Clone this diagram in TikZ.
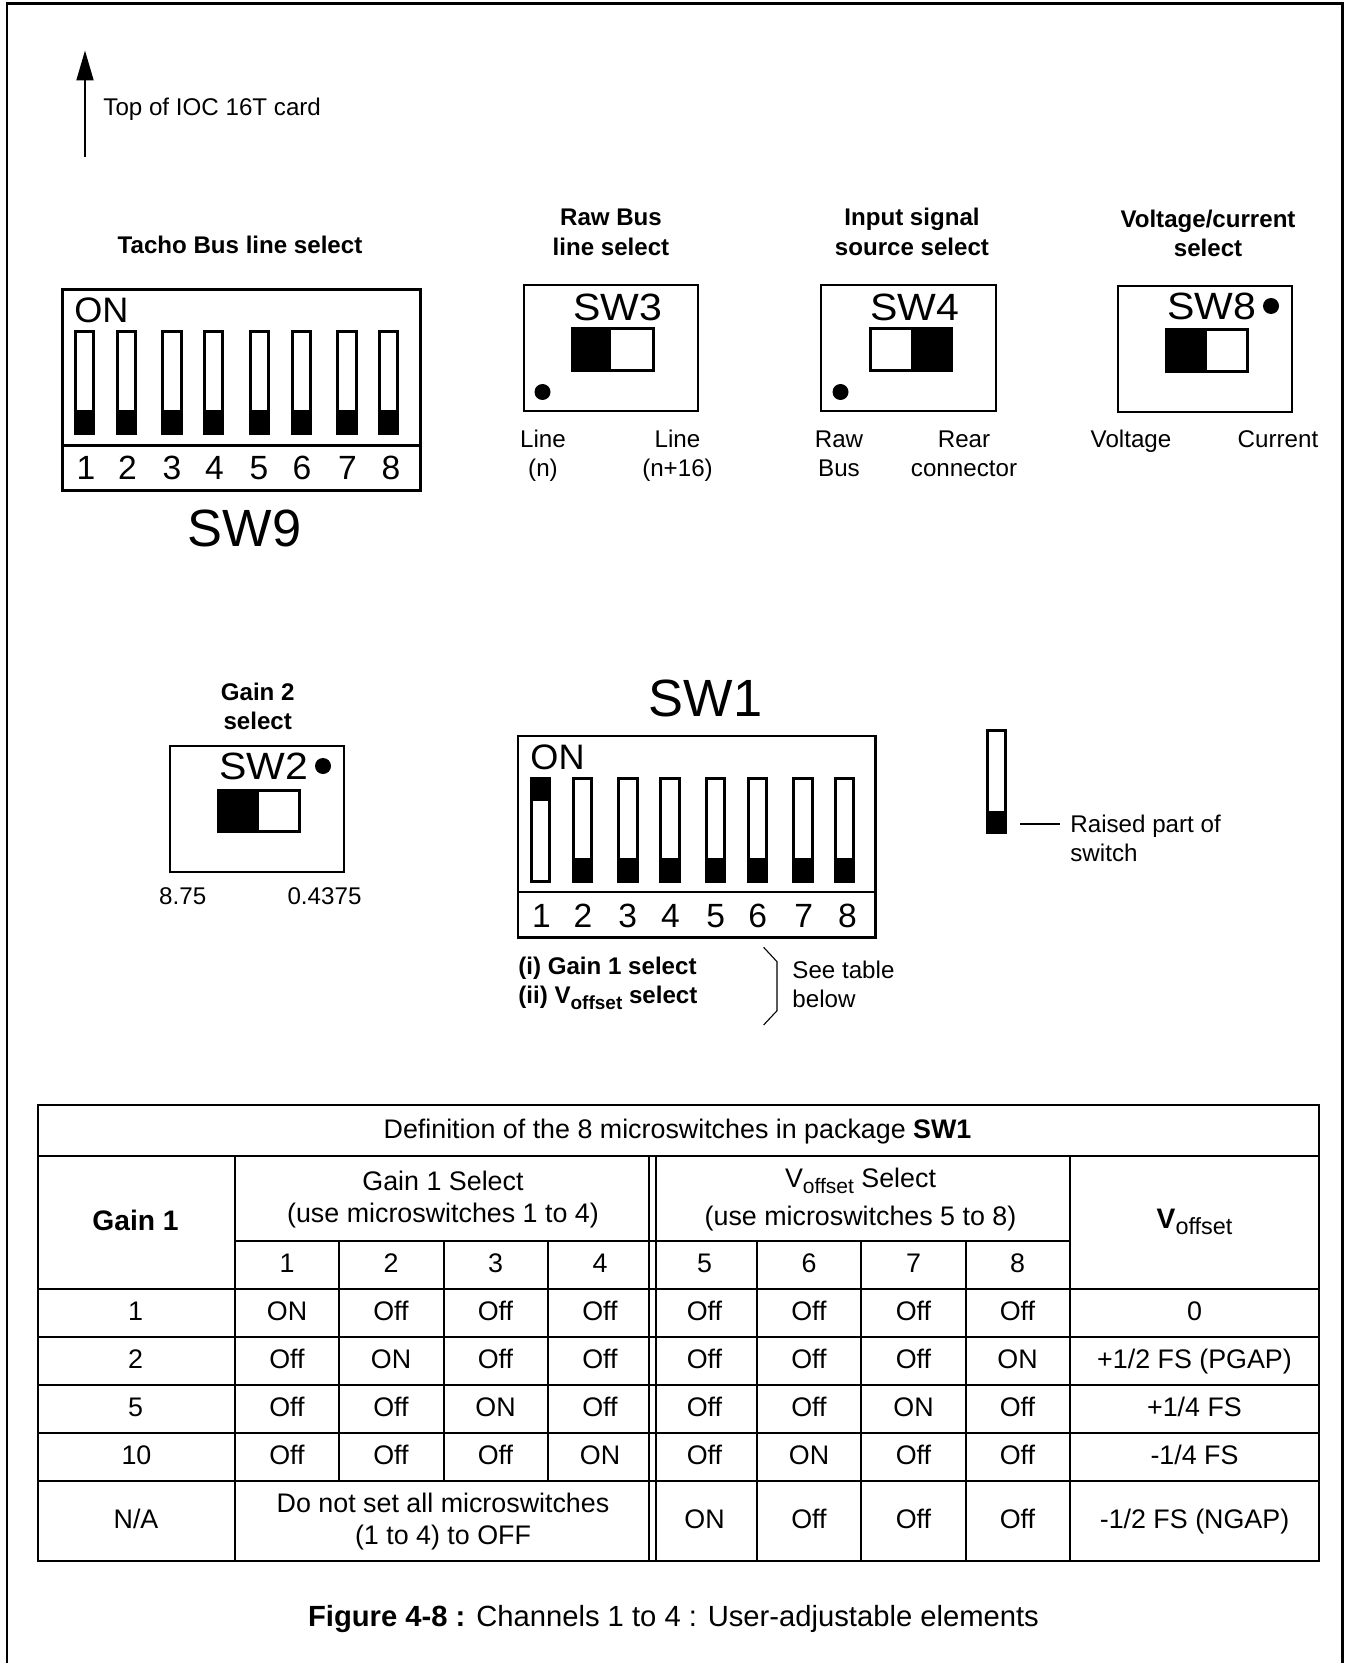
\documentclass[tikz,border=0pt]{standalone}
\usepackage{fontspec}
\usepackage{graphicx}
\setmainfont{Liberation Sans}
\usetikzlibrary{arrows.meta}
\newcommand{\fsz}[1]{\fontsize{#1}{#1}\selectfont}
\newcommand{\subtxt}[2]{\raisebox{-3pt}{\fsz{#1}#2}}
\tikzset{
  tbase/.style={inner sep=0pt,text depth=0pt},
  lab/.style={tbase,font=\fsz{12.08},text height=8.6pt},
  labb/.style={tbase,font=\fsz{12.05}\bfseries,text height=8.6pt},
  cell/.style={tbase,font=\fsz{13.42},text height=9.5pt},
  cellb/.style={tbase,font=\fsz{14.1}\bfseries,text height=10pt},
  swname/.style={tbase,font=\fsz{19},text height=13.6pt},
  swbig/.style={tbase,font=\fsz{26.2},text height=18.3pt},
  digit/.style={tbase,font=\fsz{16.8},text height=11.8pt},
  onlab/.style={tbase,font=\fsz{17.7},text height=12.2pt,anchor=west},
  frame/.style={line width=1.2pt,draw=black},
  boxl/.style={line width=1.35pt,draw=black},
  tout/.style={line width=1.25pt,draw=black},
  tin/.style={line width=1pt,draw=black},
  tdbl/.style={line width=.8pt,draw=black},
  thin/.style={line width=.55pt,draw=black},
  swdot/.style={circle,fill=black,inner sep=0pt,minimum size=8pt},
}
% vertical DIP slot: x-left, x-right, top, bottom, raised top, raised bottom
\newcommand{\slotv}[6]{%
  \draw[boxl,fill=white] (#1+1.3,#3+1.3) rectangle (#2-1.3,#4-1.3);
  \fill[black] (#1,#5) rectangle (#2,#6);
}
% horizontal two-way switch: x-left, x-right, top, bottom, black from, black to
\newcommand{\slideh}[6]{%
  \draw[boxl,fill=white] (#1+1.3,#3+1.3) rectangle (#2-1.3,#4-1.3);
  \fill[black] (#5,#3) rectangle (#6,#4);
}
\newcommand{\tabrow}[3]{%
  \foreach \cv [count=\ci] in {#3} {
    \pgfmathsetmacro{\cx}{{287,391,495.5,600,704.5,809,913.5,1017.5}[\ci-1]}
    \node[cell] (#1c\ci) at (\cx,#2) {\cv};
  }
}
\begin{document}
\begin{tikzpicture}[x=0.5pt,y=-0.5pt]
\useasboundingbox (0,0) rectangle (1345,1663);
% page frame (open at the bottom)
\draw[frame] (7,1663) -- (7,3.5) -- (1342.5,3.5) -- (1342.5,1663);

% arrow
\coordinate (arrS) at (85,157);
\coordinate (arrE) at (85,50.5);
\draw[line width=1pt,-{Triangle[length=15pt,width=8.5pt]}] (arrS) -- (arrE);
\node[lab,anchor=west] (toplab) at (103,106.5) {Top of IOC 16T card};

% SW9
\node[labb] (t9) at (240,245) {Tacho Bus line select};
\draw[boxl] (62.5,289.5) rectangle (420.5,490.5);
\draw[boxl] (62.5,445.5) -- (420.5,445.5);
\node[onlab] (on9) at (74,310) {\scalebox{1.02}[1]{ON}};
\foreach \a/\b in {74/95,116/137,161/183,203/224,249/270,291/312,336/358,378/399}
  {\slotv{\a}{\b}{330}{434.5}{410.5}{434.5}}
\foreach \x [count=\i] in {86,127.5,172,214.5,259,302,347.5,391}
  {\node[digit] (d9\i) at (\x,467.5) {\i};}
\node[swbig] (sw9) at (244.5,528) {SW9};

% SW3
\node[labb] (t3a) at (611,217) {Raw Bus};
\node[labb] (t3b) at (611,246.5) {line select};
\draw[boxl] (524,285) rectangle (698,411);
\node[swname] (sw3) at (617.5,307) {\scalebox{1.08}[1]{SW3}};
\slideh{571}{655}{327.5}{372}{571}{611}
\node[swdot] (dot3) at (542.5,392) {};
\node[lab] (l3a) at (543,439) {Line};
\node[lab] (l3b) at (543,468) {(n)};
\node[lab] (l3c) at (677.5,439) {Line};
\node[lab] (l3d) at (677.5,468) {(n+16)};

% SW4
\node[labb] (t4a) at (912,217) {Input signal};
\node[labb] (t4b) at (912,247) {source select};
\draw[boxl] (821,285) rectangle (996,411);
\node[swname] (sw4) at (914.5,307) {\scalebox{1.08}[1]{SW4}};
\slideh{869.5}{953}{327.5}{372}{911}{953}
\node[swdot] (dot4) at (840.5,392) {};
\node[lab] (l4a) at (839,439) {Raw};
\node[lab] (l4b) at (839,468) {Bus};
\node[lab] (l4c) at (964,439) {Rear};
\node[lab] (l4d) at (964,468) {connector};

% SW8
\node[labb] (t8a) at (1208,219) {Voltage/current};
\node[labb] (t8b) at (1208,248) {select};
\draw[boxl] (1118,286) rectangle (1292,412);
\node[swname] (sw8) at (1211.5,306) {\scalebox{1.08}[1]{SW8}};
\slideh{1165.5}{1248.5}{328.5}{372.5}{1165.5}{1206.5}
\node[swdot] (dot8) at (1271,306) {};
\node[lab] (l8a) at (1131,439) {Voltage};
\node[lab] (l8b) at (1278,439) {Current};

% SW2
\node[labb] (t2a) at (257.7,692) {Gain 2};
\node[labb] (t2b) at (257.7,720.5) {select};
\draw[boxl] (170,746) rectangle (344,872);
\node[swname] (sw2) at (263.5,766) {\scalebox{1.08}[1]{SW2}};
\slideh{217}{300.5}{789}{833}{217}{259}
\node[swdot] (dot2) at (323,766) {};
\node[lab] (l2a) at (182.7,895.5) {8.75};
\node[lab] (l2b) at (324.5,895.5) {0.4375};

% SW1
\node[swbig] (sw1) at (705.5,698.5) {SW1};
\draw[boxl] (518,736) rectangle (875.5,937.5);
\draw[boxl] (518,892) -- (875.5,892);
\node[onlab] (on1) at (530,757.5) {\scalebox{1.02}[1]{ON}};
\slotv{530}{551}{777}{883}{777}{801}
\foreach \a/\b in {572/593,617/639,659/681,705/726,747/768,792/813.5,834/855}
  {\slotv{\a}{\b}{777}{883}{858}{883}}
\foreach \x [count=\i] in {541.5,583,627.8,670.5,715.6,757.8,803.8,847.4}
  {\node[digit] (d1\i) at (\x,916) {\i};}
\node[labb,anchor=west] (gi) at (518,966) {(i) Gain 1 select};
\node[labb,anchor=west] (gii) at (518,995) {(ii) V\subtxt{9.5}{offset} select};
\coordinate (brA) at (763.6,947.3);
\coordinate (brB) at (777,961.7);
\coordinate (brC) at (777,1010.7);
\coordinate (brD) at (763.6,1025);
\draw[thin] (brA) -- (brB) -- (brC) -- (brD);
\node[lab,anchor=west] (see1) at (792,970) {See table};
\node[lab,anchor=west] (see2) at (792,999) {below};

% legend
\slotv{986.5}{1006.5}{729.5}{834}{810.5}{834}
\coordinate (legA) at (1020,824);
\coordinate (legB) at (1060,824);
\draw[line width=.8pt] (legA) -- (legB);
\node[lab,anchor=west] (rp1) at (1070,824) {Raised part of};
\node[lab,anchor=west] (rp2) at (1070,853) {switch};

% table grid
\draw[tout] (38,1105) rectangle (1319,1561);
\foreach \y in {1156,1289,1337,1385,1433,1481}
  {\draw[tin] (38,\y) -- (1319,\y);}
\draw[tin] (235,1241) -- (1070,1241);
\draw[tin] (235,1156) -- (235,1561);
\draw[tin] (1070,1156) -- (1070,1561);
\draw[tdbl] (649,1156) -- (649,1561);
\draw[tdbl] (655.7,1156) -- (655.7,1561);
\foreach \x in {339,444,548}
  {\draw[tin] (\x,1241) -- (\x,1481);}
\foreach \x in {757,861,966}
  {\draw[tin] (\x,1241) -- (\x,1561);}

% table text
\node[cell] (def) at (677.5,1129) {Definition of the 8 microswitches in package {\bfseries SW1}};
\node[cellb] (hg) at (135.5,1220) {Gain 1};
\node[cell] (hs1) at (443,1180.5) {Gain 1 Select};
\node[cell] (hs2) at (443,1213) {(use microswitches 1 to 4)};
\node[cell] (hv1) at (860.5,1178) {V\subtxt{10.5}{offset} Select};
\node[cell] (hv2) at (860.5,1216) {(use microswitches 5 to 8)};
\node[cellb] (hvo) at (1194.5,1218) {V\subtxt{11.7}{\mdseries offset}};
\tabrow{h}{1263}{1,2,3,4,5,6,7,8}
\tabrow{ra}{1311}{ON,Off,Off,Off,Off,Off,Off,Off}
\tabrow{rb}{1359}{Off,ON,Off,Off,Off,Off,Off,ON}
\tabrow{rc}{1406.5}{Off,Off,ON,Off,Off,Off,ON,Off}
\tabrow{rd}{1454.5}{Off,Off,Off,ON,Off,ON,Off,Off}
\node[cell] (ga) at (135.5,1311) {1};
\node[cell] (gb) at (135.5,1359) {2};
\node[cell] (gc) at (135.5,1406.5) {5};
\node[cell] (gd) at (136.5,1454.5) {10};
\node[cell] (ge) at (136,1518.5) {N/A};
\node[cell] (nota) at (443,1503) {Do not set all microswitches};
\node[cell] (notb) at (443,1535) {(1 to 4) to OFF};
\node[cell] (re5) at (704.5,1518.5) {ON};
\node[cell] (re6) at (809,1518.5) {Off};
\node[cell] (re7) at (913.5,1518.5) {Off};
\node[cell] (re8) at (1017.5,1518.5) {Off};
\node[cell] (va) at (1194.5,1311) {0};
\node[cell] (vb) at (1194.5,1359) {+1/2 FS (PGAP)};
\node[cell] (vc) at (1194.5,1406.5) {+1/4 FS};
\node[cell] (vd) at (1194.5,1454.5) {-1/4 FS};
\node[cell] (ve) at (1194.5,1518.5) {-1/2 FS (NGAP)};

% caption
\node[tbase,font=\fsz{14.6},text height=10.4pt] (cap) at (673.5,1616)
  {{\bfseries Figure 4-8 :} Channels 1 to 4 : User-adjustable elements};
\end{tikzpicture}
\end{document}
